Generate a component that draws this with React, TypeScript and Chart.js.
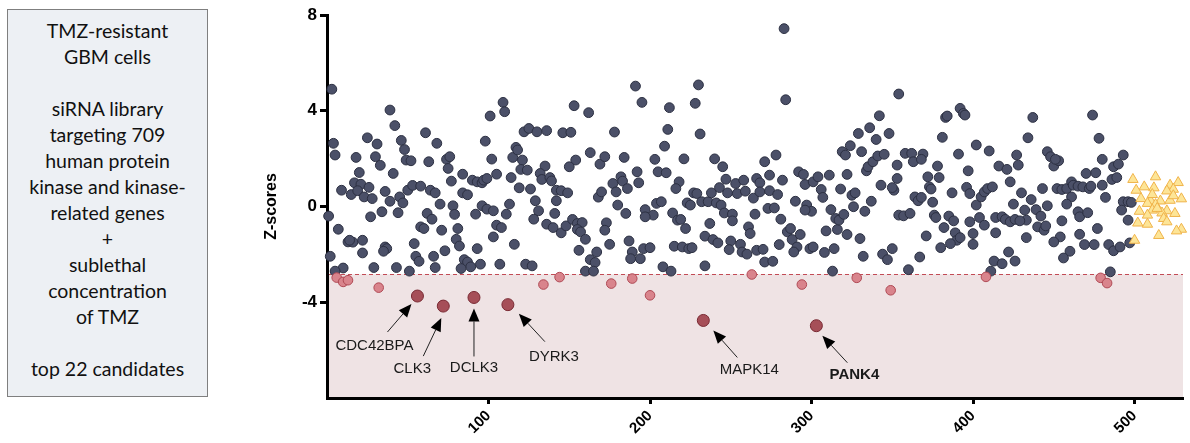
import React, { useEffect, useRef } from 'react';
import { Chart, registerables } from 'chart.js';

Chart.register(...registerables);

// ---------- data ----------
const xTicks = [100, 200, 300, 400, 500];
const yTicks = [-4, 0, 4, 8];
const threshold = -2.83;

// screened kinases: [library index, Z-score]
const kinaseZ: [number, number][] = [
  [3,4.9],[4,2.64],[5,2.15],[1,-0.4],[7,-0.95],[2,-2.08],[10,-2.57],[5,-2.7],
  [18,2.05],[20,1.42],[17,0.99],[9,0.68],[15,0.5],[21,0.93],[19,0.66],[26,0.8],[23,0.4],[28,0.33],[27,-0.43],[13,-1.48],
  [16,-1.49],[14,-1.41],[22,-1.41],[22,-1.94],[29,-2.55],[25,2.87],[31,2.61],[30,2.08],[33,1.72],[39,4.03],
  [42,3.38],[46,2.76],[48,2.38],[49,1.94],[52,1.91],[41,1.38],[36,0.63],[39,0.22],[45,0.4],[47,0.15],
  [44,-0.26],[34,-0.22],[36,-1.69],[37,-1.76],[35,-1.87],[43,-2.55],[51,-2.7],[54,-1.55],[55,-2.08],[57,-2.29],
  [50,0.68],[53,0.88],[58,0.85],[61,3.08],[63,1.87],[68,2.64],[74,1.97],[76,2.08],[75,1.59],[77,1.06],
  [64,0.68],[67,0.57],[70,0.1],[62,-0.29],[65,-0.53],[58,-0.85],[60,-0.92],[71,-0.99],[81,-0.92],[78,0.03],
  [79,-0.33],[80,-1.37],[82,-1.65],[73,-1.85],[66,-2.08],[67,-2.55],[84,1.35],[84,0.57],[87,0.49],[90,1.1],
  [93,1.03],[96,0.99],[97,1.1],[99,1.17],[98,2.73],[102,1.98],[105,1.35],[101,3.78],[109,4.35],[110,3.96],
  [92,-0.32],[96,0.03],[99,-0.11],[103,-0.18],[105,-0.78],[108,-0.88],[103,-1.27],[93,-1.76],[85,-2.22],[87,-2.32],
  [89,-2.52],[95,-2.41],[83,-2.59],[107,-2.41],[113,0.1],[111,-0.32],[114,1.21],[116,-1.58],[115,2.05],[117,2.47],
  [118,2.36],[121,1.94],[120,1.55],[124,1.52],[119,0.78],[126,0.73],[129,0.24],[131,-0.18],[128,-0.53],[122,3.12],
  [125,3.26],[130,3.12],[136,3.17],[146,3.08],[151,3.1],[153,4.21],[162,3.92],[163,2.25],[154,1.94],[150,1.66],
  [135,1.69],[132,1.38],[133,1.13],[138,1.21],[139,1.07],[142,0.68],[145,0.66],[149,0.57],[142,0.24],[141,-0.29],
  [136,-0.74],[140,-0.88],[145,-1.1],[148,-0.81],[152,-0.54],[155,-0.71],[158,-0.67],[155,-0.96],[157,-1.06],[160,-1.37],
  [156,-1.83],[167,-1.9],[163,-2.22],[166,-2.34],[160,-2.7],[165,-2.7],[123,-2.41],[127,-2.48],[169,1.77],[168,0.39],
  [178,3.11],[172,2.08],[191,5.03],[195,4.35],[212,4.13],[211,3.22],[209,2.52],[230,5.08],[228,4.31],[231,3.03],
  [283,7.43],[284,4.46],[184,2.05],[203,1.97],[221,1.99],[240,1.99],[245,1.66],[271,1.87],[278,2.15],[170,0.61],
  [177,0.96],[179,0.61],[182,1.24],[183,1.06],[186,0.75],[192,1.45],[193,0.99],[205,1.45],[210,1.41],[218,1.03],
  [216,0.75],[180,0.06],[185,-0.29],[173,-0.68],[172,-0.99],[175,-1.58],[187,-1.44],[189,-1.9],[188,-2.18],[194,-2.18],
  [196,-1.76],[200,-1.72],[197,-0.13],[202,-0.36],[197,-0.43],[204,0.13],[207,0.2],[214,-0.27],[217,-0.57],[219,-0.54],
  [222,-0.92],[215,-1.66],[220,-1.69],[224,-1.76],[226,-1.72],[208,-2.52],[213,-2.7],[234,-2.48],[223,0.15],[225,0.06],
  [227,0.57],[229,0.54],[232,0.2],[236,0.2],[241,0.15],[244,0.06],[238,0.57],[243,0.79],[248,0.57],[247,1.14],
  [253,0.96],[258,1.1],[254,0.54],[259,0.64],[246,-0.27],[251,-0.32],[251,-0.6],[237,-0.71],[234,-1.24],[239,-1.38],
  [242,-1.52],[250,-1.44],[249,-1.8],[256,-1.58],[257,-1.9],[260,-1.99],[261,-0.85],[262,-1.13],[265,-0.32],[264,0.35],
  [266,1.17],[268,0.99],[268,0.61],[274,0.66],[279,0.5],[274,1.31],[282,1.1],[273,-0.08],[277,-0.06],[281,-0.53],
  [266,-1.83],[270,-1.79],[271,-2.32],[276,-2.29],[280,-1.59],[285,-1.06],[287,-0.92],[288,-1.38],[291,-1.69],[293,-1.17],
  [289,-1.9],[290,0.22],[292,1.45],[295,1.34],[296,0.92],[297,0.06],[300,-0.2],[296,-0.15],[301,1.03],[304,1.24],
  [306,0.71],[307,0.38],[299,-1.76],[301,-1.69],[308,-1.92],[314,-1.76],[313,-2.7],[311,1.31],[312,-0.13],[315,-0.5],
  [309,-1.02],[316,-0.96],[317,-0.57],[320,-0.33],[322,-1.17],[330,-1.34],[332,-2.08],[318,0.73],[322,1.34],[325,0.47],
  [327,0.57],[326,-0.01],[333,-0.2],[337,0.22],[319,2.29],[321,2.15],[324,2.54],[331,2.29],[329,3.05],[336,3.29],
  [340,2.8],[342,3.79],[348,3.05],[334,1.49],[335,1.66],[338,1.87],[341,2.11],[345,2.18],[343,0.89],[351,0.68],
  [353,1.73],[353,1.17],[354,-0.36],[350,0.79],[354,4.7],[344,-1.99],[347,-2.22],[350,-1.76],
  [358,2.22],[362,2.22],[363,1.87],[369,2.19],[368,1.97],[357,-0.39],[361,-0.29],[367,-2.11],[360,-2.64],[371,-1.23],
  [381,2.89],[383,3.72],[384,3.78],[392,4.1],[394,3.89],[395,3.82],[391,2.19],[402,2.57],[410,2.32],[397,1.49],
  [378,1.69],[379,1.21],[372,1.24],[373,0.82],[374,0.73],[375,0.18],[364,0.4],[366,0.24],[368,0.38],[376,-0.36],
  [377,-0.46],[382,-0.88],[385,-0.4],[388,-0.6],[389,-1.1],[390,-1.41],[392,-1.3],[386,-1.55],[380,-1.72],[387,0.57],
  [396,0.8],[398,0.54],[402,0.06],[405,0.4],[407,0.61],[409,0.75],[412,0.82],[398,-0.64],[404,-0.46],[407,-0.78],
  [400,-1.13],[400,-1.58],[414,-1.1],[414,-0.46],[418,-0.43],[420,-0.54],[423,-0.64],[416,1.69],[421,1.55],[427,2.15],
  [428,1.73],[423,1.03],[430,0.57],[425,0.1],[436,0.29],[432,-0.15],[433,-0.57],[426,-0.54],[429,-0.6],[433,-1.3],
  [437,3.72],[434,2.87],[439,-0.13],[442,-0.4],[440,-0.85],[444,-0.99],[445,-0.81],[446,0.03],[443,0.75],[446,2.29],
  [448,2.08],[450,1.69],[453,1.91],[451,1.97],[452,0.75],[455,0.71],[458,0.75],[461,1.03],[462,0.89],[465,0.85],
  [468,0.82],[472,0.75],[473,0.85],[461,0.4],[458,0.1],[455,-0.6],[454,-1.27],[450,-1.48],[460,-1.87],[456,-2.15],
  [465,-0.22],[466,-0.43],[471,-0.26],[466,-1.16],[469,-1.59],[475,-1.59],[477,-0.92],[474,3.82],[478,2.85],[480,1.97],
  [487,1.66],[490,1.77],[493,2.15],[470,1.38],[476,1.41],[480,0.89],[486,1.13],[489,1.21],[482,0.38],[493,0.2],
  [496,0.2],[498,0.17],[492,-0.15],[496,-0.57],[484,-1.59],[487,-1.85],[491,-1.69],[497,-1.52],[485,-2.73],[413,-2.28],
  [418,-2.39],[422,-1.9],[426,-2.28],[411,-2.7],
];

// hits below the cut-off (not labelled)
const candidateZ: [number, number][] = [
  [6,-2.97],[10,-3.15],[13,-3.08],[32,-3.39],[134,-3.26],[144,-2.95],[176,-3.22],[189,-3.01],
  [200,-3.71],[263,-2.84],[294,-3.26],[328,-2.98],[349,-3.5],[408,-2.94],[479,-2.98],[483,-3.2],
];

// labelled hits
const topHits = ['CDC42BPA', 'CLK3', 'DCLK3', 'DYRK3', 'MAPK14', 'PANK4'];
const topHitX = [56, 72, 91, 112, 233, 303];
const topHitZ = [-3.74, -4.16, -3.8, -4.1, -4.76, -4.98];

// non-targeting controls
const controlZ: [number, number][] = [
  [513,1.24],[499,1.13],[527,1.0],[522,0.89],[506,0.82],[512,0.78],[501,0.68],[524,0.72],[520,0.65],[504,0.33],
  [510,0.23],[516,0.23],[522,0.26],[529,0.32],[508,0.13],[513,0.08],[503,-0.2],[511,-0.15],[520,-0.18],[525,-0.29],
  [517,-0.27],[508,-0.36],[518,-0.5],[520,-0.64],[502,-0.69],[508,-0.74],[529,-0.95],[526,-1.02],[515,-1.21],[500,-1.41],
  [514,-0.08],[524,0.45],[511,0.5],
];

const boxLines = [
  'TMZ-resistant', 'GBM cells', '', 'siRNA library', 'targeting 709', 'human protein',
  'kinase and kinase-', 'related genes', '+', 'sublethal', 'concentration', 'of TMZ', '', 'top 22 candidates',
];

// annotation layout: pixel offsets from the point (label centre, arrow tail, arrow tip)
const annotLayout = [
  { label: [-43, 50], tail: [-30, 36], tip: [-6, 8], bold: false },
  { label: [-31, 63], tail: [-20, 50], tip: [-2, 12], bold: false },
  { label: [0, 70], tail: [0, 59], tip: [0, 11], bold: false },
  { label: [46, 52], tail: [37, 37], tip: [11, 9], bold: false },
  { label: [46, 49], tail: [34, 37], tip: [10, 10], bold: false },
  { label: [38, 49], tail: [31, 37], tip: [6, 10], bold: true },
];

const FONT = "'Liberation Sans', Arial, Helvetica, sans-serif";

const bandPlugin = {
  id: 'band',
  beforeDraw(chart: any) {
    const { ctx, chartArea: a, scales } = chart;
    const yt = scales.y.getPixelForValue(threshold);
    ctx.save();
    ctx.fillStyle = '#efe3e4';
    ctx.fillRect(a.left, yt, a.right - a.left, a.bottom - yt);
    ctx.strokeStyle = '#c24b55';
    ctx.lineWidth = 1;
    ctx.setLineDash([4, 3]);
    ctx.beginPath();
    ctx.moveTo(a.left, Math.round(yt) + 0.5);
    ctx.lineTo(a.right, Math.round(yt) + 0.5);
    ctx.stroke();
    ctx.restore();
  },
};

const annotPlugin = {
  id: 'annot',
  afterDatasetsDraw(chart: any) {
    const { ctx, scales } = chart;
    ctx.save();
    topHits.forEach((name, i) => {
      const px = scales.x.getPixelForValue(topHitX[i]);
      const py = scales.y.getPixelForValue(topHitZ[i]);
      const L = annotLayout[i];
      const tx = px + L.tail[0], ty = py + L.tail[1];
      const hx = px + L.tip[0], hy = py + L.tip[1];
      const ang = Math.atan2(hy - ty, hx - tx);
      const len = 13, hw = 5.5;
      const bx = hx - len * Math.cos(ang), by = hy - len * Math.sin(ang);
      ctx.strokeStyle = '#222';
      ctx.lineWidth = 1;
      ctx.beginPath();
      ctx.moveTo(tx, ty);
      ctx.lineTo(bx, by);
      ctx.stroke();
      ctx.fillStyle = '#000';
      ctx.beginPath();
      ctx.moveTo(hx, hy);
      ctx.lineTo(bx + hw * Math.sin(ang), by - hw * Math.cos(ang));
      ctx.lineTo(bx - hw * Math.sin(ang), by + hw * Math.cos(ang));
      ctx.closePath();
      ctx.fill();
      ctx.font = `${L.bold ? 'bold ' : ''}15px ${FONT}`;
      ctx.fillStyle = '#1a1a1a';
      ctx.textAlign = 'center';
      ctx.textBaseline = 'middle';
      ctx.fillText(name, px + L.label[0], py + L.label[1]);
    });
    ctx.restore();
  },
};

const toPts = (arr: [number, number][]) => arr.map(([x, y]) => ({ x, y }));

export default function App() {
  const ref = useRef<HTMLCanvasElement | null>(null);

  useEffect(() => {
    if (!ref.current) return;
    const chart = new Chart(ref.current, {
      type: 'scatter',
      data: {
        datasets: [
          {
            data: topHitX.map((x, i) => ({ x, y: topHitZ[i] })),
            backgroundColor: '#a64f58',
            borderColor: '#7a2a33',
            borderWidth: 1,
            pointRadius: 6,
            clip: false,
          },
          {
            data: toPts(candidateZ),
            backgroundColor: '#d9848c',
            borderColor: '#b04a55',
            borderWidth: 1,
            pointRadius: 4.8,
            clip: false,
          },
          {
            data: toPts(controlZ),
            pointStyle: 'triangle',
            backgroundColor: '#fde597',
            borderColor: '#f0b34a',
            borderWidth: 1,
            pointRadius: 6,
            clip: false,
          },
          {
            data: toPts(kinaseZ),
            backgroundColor: '#4b5068',
            borderColor: '#2c3042',
            borderWidth: 1,
            pointRadius: 4.9,
            clip: false,
          },
        ],
      },
      options: {
        responsive: false,
        animation: false,
        devicePixelRatio: 1,
        events: [],
        layout: { padding: { left: 252, right: 7, top: 15, bottom: 0 } },
        plugins: { legend: { display: false }, tooltip: { enabled: false } },
        scales: {
          x: {
            type: 'linear',
            min: 0,
            max: 530,
            afterBuildTicks: (axis: any) => {
              axis.ticks = xTicks.map((v) => ({ value: v }));
            },
            afterFit: (scale: any) => {
              scale.height = 45;
            },
            grid: {
              drawOnChartArea: false,
              drawTicks: true,
              tickLength: 6,
              tickWidth: 3,
              tickColor: '#000',
            },
            border: { display: true, width: 3, color: '#000' },
            ticks: {
              autoSkip: false,
              minRotation: 45,
              maxRotation: 45,
              padding: 3,
              color: '#000',
              font: { family: FONT, size: 15, weight: 'bold' },
            },
          },
          y: {
            type: 'linear',
            min: -8,
            max: 8,
            afterBuildTicks: (axis: any) => {
              axis.ticks = yTicks.map((v) => ({ value: v }));
            },
            afterFit: (scale: any) => {
              scale.width = 75;
            },
            grid: {
              drawOnChartArea: false,
              drawTicks: true,
              tickLength: 7,
              tickWidth: 3,
              tickColor: '#000',
            },
            border: { display: true, width: 3, color: '#000' },
            ticks: {
              padding: 3,
              color: '#000',
              font: { family: FONT, size: 17, weight: 'bold' },
            },
            title: {
              display: true,
              text: 'Z-scores',
              color: '#000',
              padding: 10,
              font: { family: FONT, size: 16, weight: 'bold' },
            },
          },
        },
      },
      plugins: [bandPlugin, annotPlugin],
    } as any);
    return () => chart.destroy();
  }, []);

  return (
    <div style={{ position: 'absolute', left: 0, top: 0, width: 1190, height: 443, background: '#fff' }}>
      <div
        style={{
          position: 'absolute',
          left: 7,
          top: 9,
          width: 201,
          height: 388,
          boxSizing: 'border-box',
          border: '1px solid #7f7f7f',
          background: '#edf0f4',
          paddingTop: 8,
          textAlign: 'center',
          fontFamily: "Lato, 'Open Sans', sans-serif",
          fontSize: 19.5,
          lineHeight: '26px',
          color: '#111',
        }}
      >
        {boxLines.map((t, i) => (
          <div key={i} style={{ height: 26, whiteSpace: 'nowrap' }}>{t}</div>
        ))}
      </div>
      <canvas ref={ref} width={1190} height={443} style={{ position: 'absolute', left: 0, top: 0 }} />
    </div>
  );
}
